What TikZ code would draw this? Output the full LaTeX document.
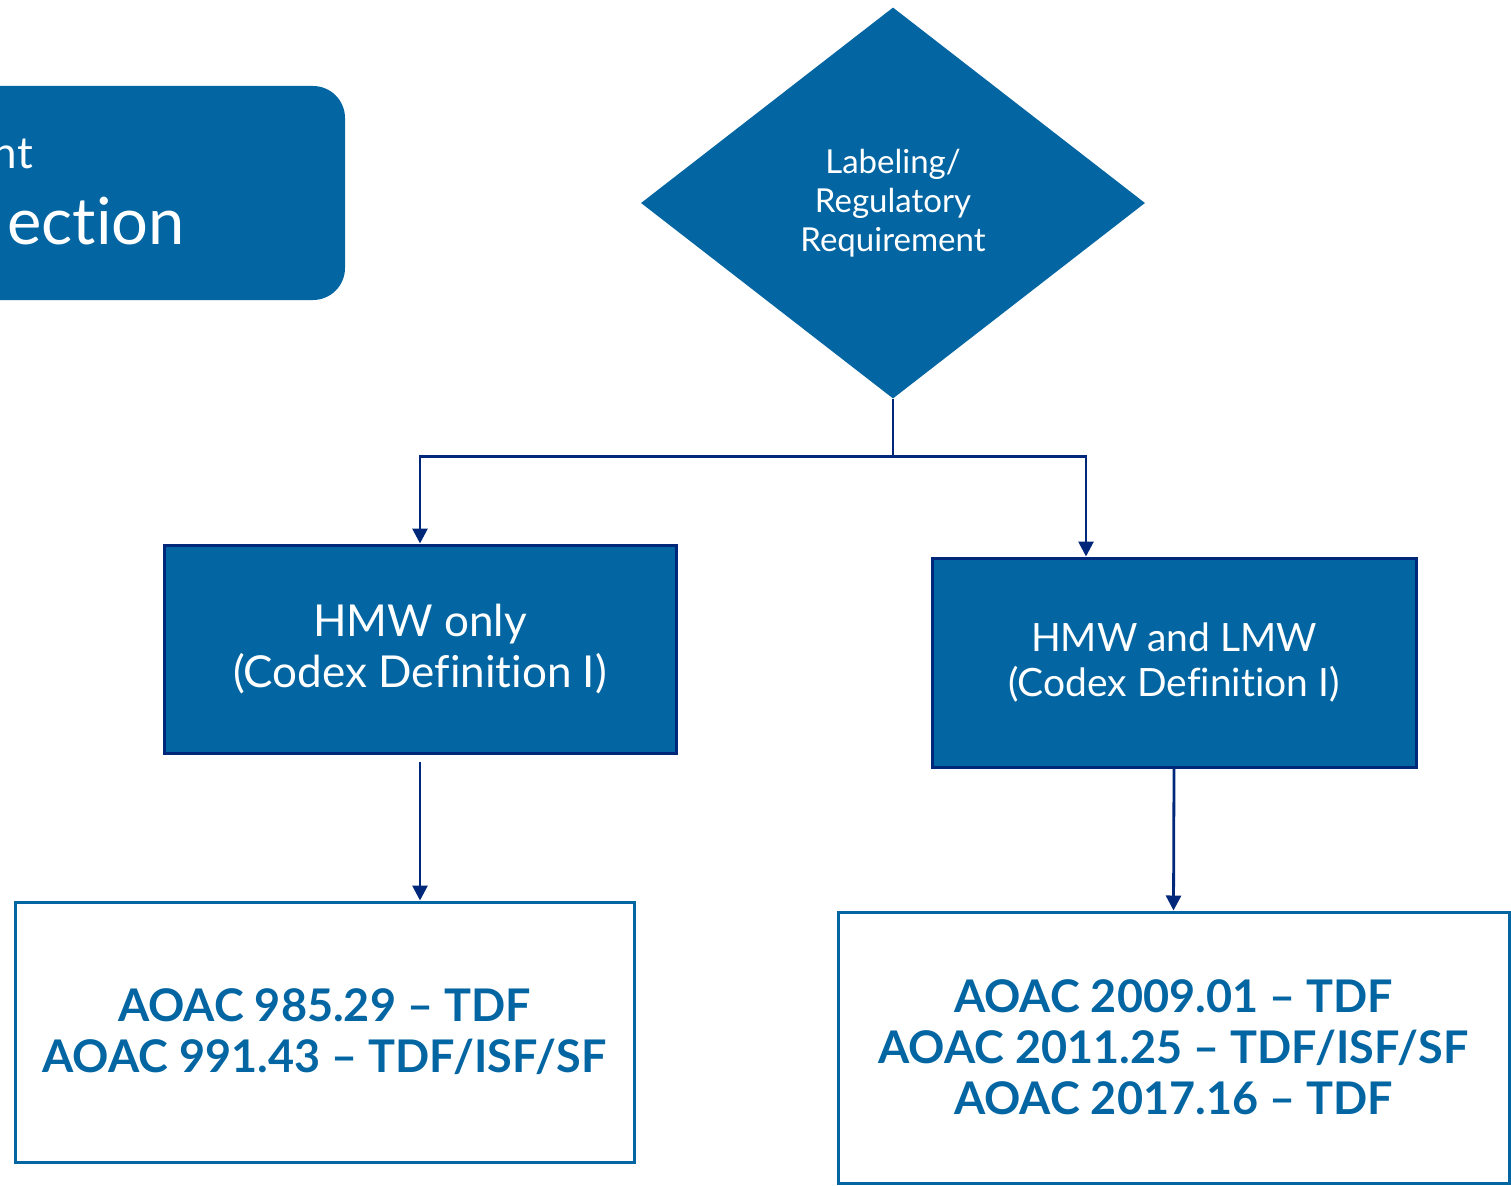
\documentclass[tikz,border=0pt]{standalone}
\usepackage{fontspec}
\setmainfont{Lato}[Ligatures={NoCommon,TeX}]
\usetikzlibrary{shapes.geometric,arrows.meta}
\definecolor{fillblue}{RGB}{3,102,163}
\definecolor{navy}{RGB}{0,40,122}
\tikzset{
  darkbox/.style={draw=navy,line width=3pt,fill=fillblue,text=white,align=center,inner sep=0pt},
  whitebox/.style={draw=fillblue,line width=3pt,fill=white,text=fillblue,align=center,inner sep=0pt,font=\fontsize{45}{51}\selectfont\bfseries},
  conn/.style={draw=navy,line width=2.8pt},
  arr/.style={conn,-{Triangle[width=15pt,length=15pt]}},
}
\begin{document}
\begin{tikzpicture}[x=1pt,y=-1pt]
\useasboundingbox (0,0) rectangle (1511,1185);
% left cut-off box
\node[fill=fillblue,rounded corners=32pt,minimum width=420pt,minimum height=214pt,inner sep=0pt] (lbox) at (135,193) {};
\node[anchor=base east,text=white,inner sep=0pt,font=\fontsize{44}{50}\selectfont] (ltxt1) at (33,169) {nt};
\node[anchor=base east,text=white,inner sep=0pt,font=\fontsize{65}{70}\selectfont] (ltxt2) at (185,244) {ection};
% diamond
\node[diamond,fill=fillblue,text=white,inner sep=0pt,minimum width=504pt,minimum height=391pt,shape aspect=1.29,align=center,font=\fontsize{33}{39}\selectfont] (dia) at (893,203) {Labeling/\\Regulatory\\Requirement};
% boxes
\node[darkbox,minimum width=512pt,minimum height=208pt,font=\fontsize{44}{51}\selectfont] (b1) at (420,649) {HMW only\\(Codex Definition I)};
\node[darkbox,minimum width=484pt,minimum height=209pt,font=\fontsize{39}{45}\selectfont] (b2) at (1174,662.5) {HMW and LMW\\(Codex Definition I)};
\node[whitebox,minimum width=619pt,minimum height=260pt] (b3) at (324.5,1032) {AOAC 985.29 – TDF\\AOAC 991.43 – TDF/ISF/SF};
\node[whitebox,minimum width=671pt,minimum height=271pt] (b4) at (1173.5,1047.5) {AOAC 2009.01 – TDF\\AOAC 2011.25 – TDF/ISF/SF\\AOAC 2017.16 – TDF};
% connectors
\draw[conn] (dia.south) -- ++(0,58) coordinate (j);
\draw[arr] (j) -| (b1.north);
\draw[arr] (j) -| ([xshift=-88pt]b2.north);
\draw[arr,shorten <=7pt] (b1.south) -- (b1.south |- b3.north);
\draw[arr] (b2.south) -- (b4.north);
\end{tikzpicture}
\end{document}
